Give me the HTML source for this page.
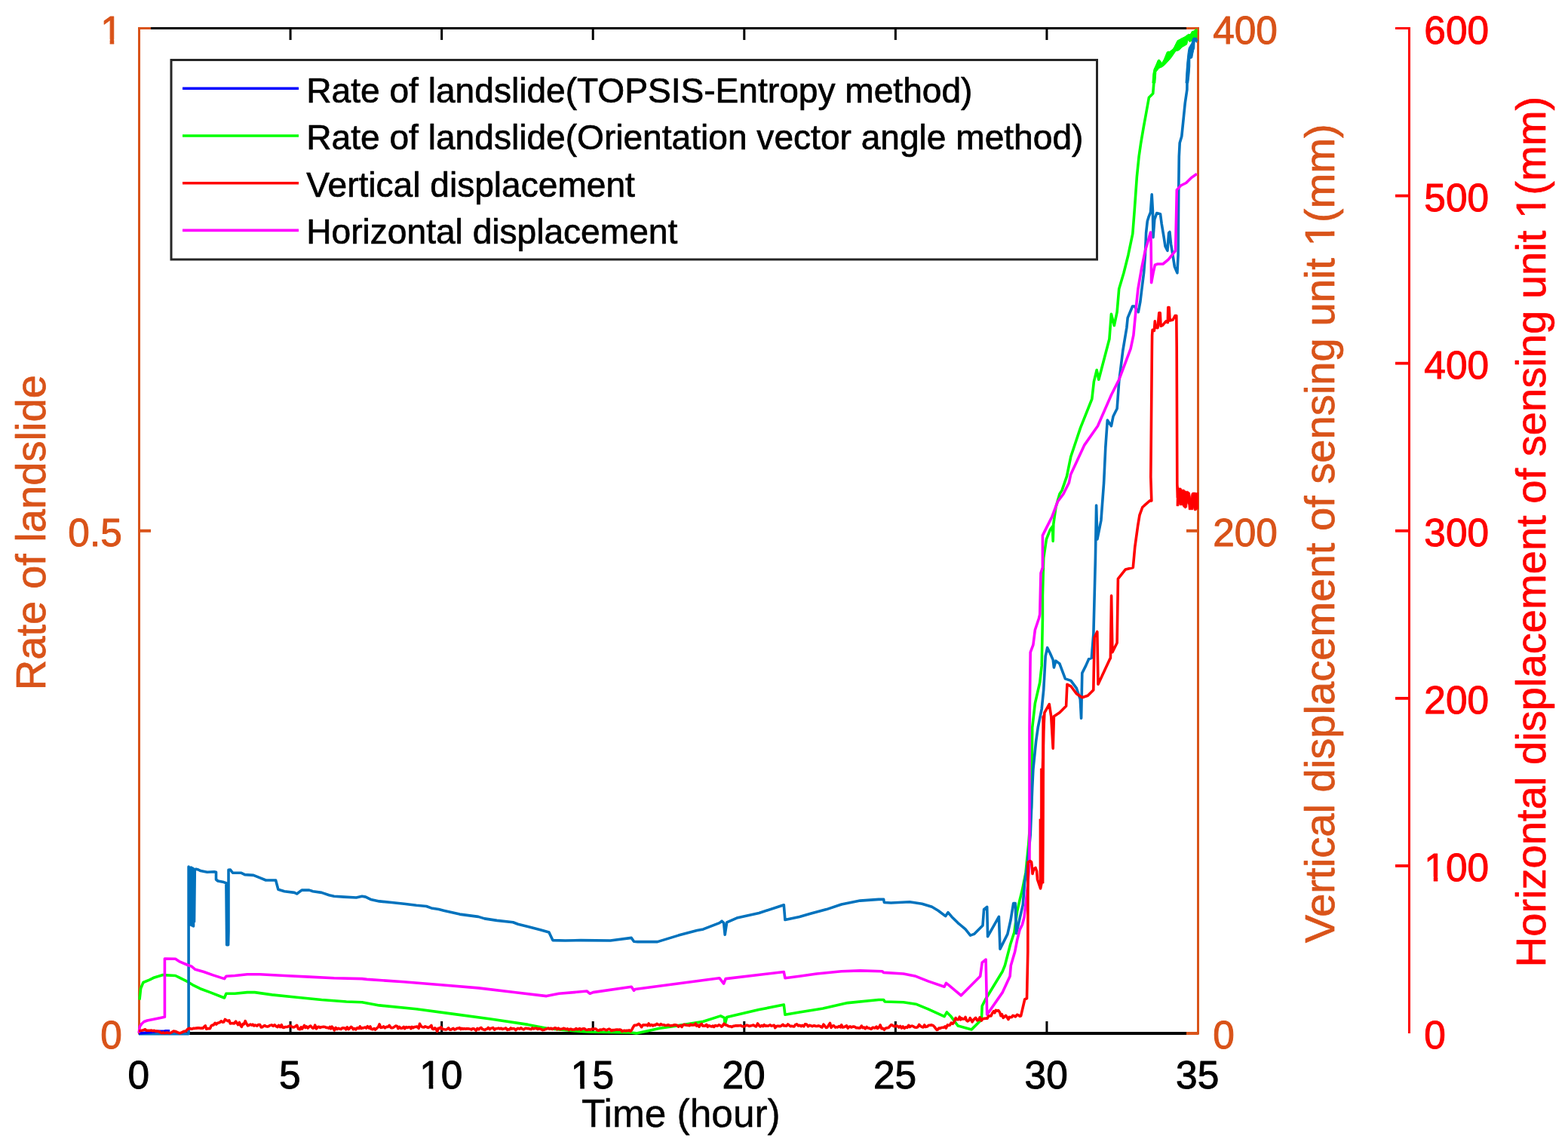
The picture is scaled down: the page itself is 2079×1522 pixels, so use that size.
<!DOCTYPE html>
<html><head><meta charset="utf-8"><title>Rate of landslide</title>
<style>html,body{margin:0;padding:0;background:#fff;overflow:hidden;}svg{display:block;}</style>
</head><body>
<svg width="2079" height="1522" viewBox="0 0 2079 1522" font-family="Liberation Sans, Arial, sans-serif">
<rect width="2079" height="1522" fill="#fff"/>
<defs><clipPath id="k1" clipPathUnits="userSpaceOnUse"><rect x="-6000" y="-600" width="12000" height="589.5"/><rect x="-6000" y="2.5" width="12000" height="600"/><rect x="-6000.0" y="-10.8" width="5947.9" height="13.6"/><rect x="-31.3" y="-10.8" width="10.7" height="13.6"/><rect x="-0.6" y="-10.8" width="6000.6" height="13.6"/></clipPath><clipPath id="k2" clipPathUnits="userSpaceOnUse"><rect x="-6000" y="-600" width="12000" height="589.5"/><rect x="-6000" y="2.5" width="12000" height="600"/><rect x="-6000.0" y="-10.8" width="6003.5" height="13.6"/><rect x="24.3" y="-10.8" width="10.7" height="13.6"/><rect x="55.0" y="-10.8" width="5945.0" height="13.6"/></clipPath><clipPath id="k3" clipPathUnits="userSpaceOnUse"><rect x="-6000" y="-600" width="12000" height="589.5"/><rect x="-6000" y="2.5" width="12000" height="600"/><rect x="-6000.0" y="-10.8" width="5947.9" height="13.6"/><rect x="-31.3" y="-10.8" width="10.7" height="13.6"/><rect x="-0.6" y="-10.8" width="6000.6" height="13.6"/></clipPath><clipPath id="k4" clipPathUnits="userSpaceOnUse"><rect x="-6000" y="-600" width="12000" height="589.5"/><rect x="-6000" y="2.5" width="12000" height="600"/><rect x="-6000.0" y="-10.8" width="5947.9" height="13.6"/><rect x="-31.3" y="-10.8" width="10.7" height="13.6"/><rect x="-0.6" y="-10.8" width="6000.6" height="13.6"/></clipPath><clipPath id="k5" clipPathUnits="userSpaceOnUse"><rect x="-6000" y="-600" width="12000" height="589.5"/><rect x="-6000" y="2.5" width="12000" height="600"/><rect x="-6000.0" y="-10.8" width="7648.9" height="13.6"/><rect x="1669.7" y="-10.8" width="10.7" height="13.6"/><rect x="1700.4" y="-10.8" width="4299.6" height="13.6"/></clipPath><clipPath id="k6" clipPathUnits="userSpaceOnUse"><rect x="-6000" y="-600" width="12000" height="589.5"/><rect x="-6000" y="2.5" width="12000" height="600"/><rect x="-6000.0" y="-10.8" width="7771.1" height="13.6"/><rect x="1791.9" y="-10.8" width="10.7" height="13.6"/><rect x="1822.6" y="-10.8" width="4177.4" height="13.6"/></clipPath></defs>
<path d="M184.5,37.5 H1588.5" stroke="#000" stroke-width="3" fill="none"/>
<path d="M184.5,1370.0 H1588.5" stroke="#000" stroke-width="3.8" fill="none"/>
<path d="M184.50,1370.0 V1354.0 M184.50,37.5 V53.0" stroke="#000" stroke-width="3"/>
<path d="M385.07,1370.0 V1354.0 M385.07,37.5 V53.0" stroke="#000" stroke-width="3"/>
<path d="M585.64,1370.0 V1354.0 M585.64,37.5 V53.0" stroke="#000" stroke-width="3"/>
<path d="M786.21,1370.0 V1354.0 M786.21,37.5 V53.0" stroke="#000" stroke-width="3"/>
<path d="M986.79,1370.0 V1354.0 M986.79,37.5 V53.0" stroke="#000" stroke-width="3"/>
<path d="M1187.36,1370.0 V1354.0 M1187.36,37.5 V53.0" stroke="#000" stroke-width="3"/>
<path d="M1387.93,1370.0 V1354.0 M1387.93,37.5 V53.0" stroke="#000" stroke-width="3"/>
<path d="M1588.50,1370.0 V1354.0 M1588.50,37.5 V53.0" stroke="#000" stroke-width="3"/>
<path d="M184.5,36.0 V1371.5 M1588.5,36.0 V1371.5" stroke="#D95319" stroke-width="3" fill="none"/>
<path d="M184.5,1370.00 H200.0 M1588.5,1370.00 H1573.0" stroke="#D95319" stroke-width="3.8"/>
<path d="M184.5,703.75 H200.0 M1588.5,703.75 H1573.0" stroke="#D95319" stroke-width="3.8"/>
<path d="M184.5,37.50 H200.0 M1588.5,37.50 H1573.0" stroke="#D95319" stroke-width="3"/>
<path d="M1868.5,36.0 V1370.0" stroke="#FF0000" stroke-width="3" fill="none"/>
<path d="M1868.5,1147.92 H1850.0" stroke="#FF0000" stroke-width="3.8"/>
<path d="M1868.5,925.83 H1850.0" stroke="#FF0000" stroke-width="3.8"/>
<path d="M1868.5,703.75 H1850.0" stroke="#FF0000" stroke-width="3.8"/>
<path d="M1868.5,481.67 H1850.0" stroke="#FF0000" stroke-width="3.8"/>
<path d="M1868.5,259.58 H1850.0" stroke="#FF0000" stroke-width="3.8"/>
<path d="M1868.5,37.50 H1850.0" stroke="#FF0000" stroke-width="3"/>
<path d="M185.0,1325.5 L186.6,1310.7 L189.9,1302.5 L198.1,1299.2 L204.6,1295.9 L216.1,1292.6 L232.6,1293.5 L237.5,1295.9 L249.0,1301.7 L255.6,1305.8 L265.4,1310.7 L278.6,1315.6 L297.5,1323.0 L299.9,1317.3 L311.4,1317.3 L327.9,1315.6 L337.7,1315.6 L360.7,1318.9 L393.6,1322.2 L426.4,1325.5 L459.3,1328.0 L480.0,1328.8 L502.9,1332.9 L552.1,1337.8 L601.4,1344.4 L650.7,1351.0 L700.0,1358.4 L724.6,1363.3 L741.1,1364.9 L770.0,1367.4 L784.6,1368.2 L837.2,1369.0 L843.8,1369.9 L875.0,1363.3 L907.9,1358.4 L932.5,1354.3 L955.5,1346.9 L960.4,1349.3 L961.2,1358.4 L963.7,1348.5 L1006.4,1338.6 L1039.3,1332.1 L1040.9,1345.2 L1060.0,1341.9 L1091.1,1337.0 L1123.9,1329.6 L1165.0,1325.5 L1171.6,1325.5 L1173.2,1328.0 L1197.9,1328.8 L1214.3,1331.2 L1230.7,1337.8 L1252.1,1347.7 L1255.4,1341.9 L1260.4,1346.9 L1270.1,1360.0 L1288.2,1364.9 L1301.4,1351.8 L1302.2,1333.7 L1306.3,1325.5 L1329.3,1287.7 L1332.4,1280.0 L1339.6,1252.3 L1344.9,1235.8 L1347.5,1216.8 L1348.8,1207.6 L1352.1,1193.1 L1355.4,1180.0 L1360.0,1157.0 L1363.7,1119.5 L1367.5,1070.0 L1368.7,964.7 L1372.4,932.3 L1378.7,904.9 L1381.2,882.4 L1382.4,820.0 L1382.4,789.9 L1383.7,739.9 L1387.4,714.9 L1392.4,702.4 L1395.5,698.0 L1396.2,717.4 L1396.8,695.0 L1399.9,672.5 L1404.9,655.0 L1408.1,649.9 L1414.5,631.4 L1419.7,605.8 L1432.5,567.4 L1447.8,529.0 L1450.4,505.9 L1454.2,490.5 L1456.8,503.3 L1470.9,449.5 L1473.4,416.3 L1477.3,431.6 L1481.1,413.7 L1483.7,383.0 L1490.0,361.8 L1495.9,338.2 L1501.8,309.8 L1504.2,279.1 L1507.4,234.0 L1510.1,207.4 L1512.7,189.6 L1516.3,168.4 L1518.9,154.2 L1523.4,129.3 L1528.7,124.0 L1531.4,92.1 L1536.7,81.4 L1537.6,86.8 L1541.1,85.0 L1548.2,74.3 L1550.0,70.8 L1557.1,65.5 L1562.4,54.8 L1567.7,53.1 L1574.8,47.7 L1580.1,46.0 L1581.9,44.2 L1585.5,40.6 L1587.2,39.8" stroke="#00FF00" fill="none" stroke-width="3.6" stroke-linejoin="round" stroke-linecap="butt"/>
<path d="M1527.9,110.0 L1528.9,97.3 L1530.2,92.0 L1531.6,89.4 L1535.2,79.9 L1536.8,79.1 L1538.4,80.4 L1540.5,84.1 L1542.1,82.0 L1547.3,68.9 L1549.4,68.1 L1551.5,69.9 L1556.8,62.6 L1561.0,54.2 L1566.2,51.0 L1568.3,50.0 L1572.0,48.4 L1575.7,45.2 L1577.8,46.8 L1580.4,41.6 L1583.1,41.0 L1585.2,39.5 L1587.0,38.9 L1587.0,50.5 L1585.2,51.0 L1581.5,53.1 L1577.3,55.7 L1575.2,52.6 L1573.6,58.9 L1567.3,62.6 L1563.1,66.8 L1558.9,67.8 L1553.1,76.2 L1550.0,79.9 L1543.6,86.8 L1540.5,88.9 L1536.8,90.4 L1532.9,95.2 L1531.8,110.0Z" fill="#00FF00" stroke="#00FF00" stroke-width="1" stroke-linejoin="round"/>
<path d="M184.0,1370.6 L250.1,1370.6 L250.1,1149.0 L250.5,1225.0 L251.5,1150.0 L252.5,1226.0 L253.5,1150.0 L254.5,1227.0 L255.5,1151.0 L256.5,1228.0 L257.0,1152.0 L257.5,1222.0 L258.3,1153.0 L260.1,1152.2 L262.9,1153.0 L266.0,1154.6 L274.7,1156.2 L284.1,1155.8 L286.5,1156.2 L286.5,1166.0 L288.9,1168.0 L296.7,1169.6 L299.9,1170.7 L300.7,1252.7 L302.6,1252.7 L303.0,1234.6 L303.0,1153.4 L305.4,1153.0 L308.6,1157.3 L320.0,1157.3 L324.6,1159.6 L336.1,1160.4 L344.3,1163.7 L352.5,1167.0 L365.6,1167.0 L368.9,1179.3 L377.1,1181.7 L390.3,1183.4 L393.6,1185.0 L400.1,1180.1 L410.0,1180.1 L414.9,1181.7 L426.4,1183.4 L436.3,1186.7 L442.9,1188.3 L456.0,1189.1 L472.4,1190.0 L480.0,1188.3 L484.8,1189.1 L491.4,1192.4 L502.9,1194.9 L519.3,1196.5 L535.7,1198.2 L552.1,1200.3 L565.3,1201.5 L571.9,1203.9 L581.7,1205.6 L588.3,1207.2 L609.6,1212.1 L634.3,1215.4 L642.5,1217.9 L658.9,1220.4 L680.3,1222.8 L686.8,1225.3 L700.0,1228.6 L716.4,1232.7 L727.9,1236.0 L732.9,1246.6 L749.3,1247.0 L770.0,1246.6 L809.3,1247.0 L837.2,1243.4 L840.5,1248.3 L845.4,1248.6 L871.7,1248.6 L899.6,1240.1 L924.3,1233.5 L932.5,1231.9 L953.9,1223.6 L957.1,1221.2 L959.6,1223.6 L961.2,1239.2 L963.7,1222.8 L976.9,1217.1 L1006.4,1210.5 L1039.3,1199.8 L1040.9,1219.5 L1060.0,1215.4 L1074.6,1211.3 L1096.0,1205.6 L1115.7,1199.0 L1140.4,1194.1 L1165.0,1192.4 L1171.6,1192.4 L1172.4,1196.5 L1181.4,1197.0 L1206.1,1195.7 L1222.5,1198.2 L1235.6,1202.3 L1243.9,1207.2 L1253.7,1214.6 L1257.0,1209.7 L1261.9,1215.4 L1270.1,1223.6 L1280.0,1231.9 L1286.6,1240.1 L1291.5,1238.4 L1303.0,1226.9 L1304.6,1205.6 L1308.7,1202.3 L1309.6,1241.7 L1324.4,1215.4 L1326.0,1258.1 L1335.9,1238.4 L1340.0,1220.0 L1343.7,1197.5 L1346.2,1197.5 L1347.5,1237.5 L1356.2,1199.8 L1358.7,1169.4 L1362.5,1144.4 L1366.2,1107.0 L1368.7,1044.6 L1369.9,1019.7 L1373.7,982.2 L1376.2,964.7 L1381.2,939.8 L1383.7,914.8 L1386.2,869.9 L1388.7,858.7 L1392.4,866.2 L1396.2,874.9 L1397.4,884.9 L1399.9,876.2 L1404.9,879.9 L1412.4,899.9 L1419.9,902.4 L1427.3,912.3 L1432.3,927.3 L1433.6,952.3 L1434.8,892.4 L1439.8,882.4 L1443.6,873.7 L1447.3,872.4 L1449.9,839.8 L1452.4,739.9 L1453.6,670.0 L1454.9,714.9 L1459.9,690.0 L1463.6,640.0 L1465.8,593.0 L1468.3,557.1 L1473.4,564.8 L1476.0,552.0 L1481.1,541.8 L1483.7,505.9 L1488.8,464.9 L1493.9,434.2 L1495.2,421.4 L1501.6,406.0 L1504.2,406.0 L1509.3,413.7 L1511.9,399.9 L1513.6,385.5 L1516.6,361.8 L1518.4,338.2 L1519.6,308.7 L1521.3,293.3 L1523.1,287.4 L1525.5,281.5 L1527.2,257.8 L1528.4,279.1 L1529.0,314.6 L1530.8,290.9 L1533.7,282.6 L1538.5,283.8 L1540.2,296.8 L1543.2,314.6 L1545.0,326.4 L1547.9,332.3 L1549.7,308.7 L1550.9,307.5 L1552.6,324.0 L1555.0,338.2 L1557.4,353.6 L1560.9,361.8 L1562.1,338.2 L1562.7,255.5 L1563.3,207.4 L1564.2,189.6 L1566.8,180.8 L1568.6,163.0 L1571.3,136.4 L1573.9,118.7 L1574.0,110.0 L1575.0,92.0 L1576.0,78.0 L1578.0,70.0 L1581.0,62.0 L1582.5,56.0 L1583.5,51.5 L1585.5,51.5 L1587.0,55.0" stroke="#0072BD" fill="none" stroke-width="3.6" stroke-linejoin="round" stroke-linecap="butt"/>
<path d="M1572.0,110.0 L1573.1,92.0 L1574.1,79.9 L1575.2,69.4 L1576.2,63.6 L1579.9,57.3 L1581.2,52.1 L1582.3,50.2 L1585.2,50.5 L1586.7,55.7 L1586.7,56.5 L1584.1,52.1 L1583.8,63.6 L1582.8,66.3 L1581.5,72.0 L1580.7,76.8 L1577.8,77.8 L1577.8,87.8 L1576.8,100.9 L1575.7,110.0Z" fill="#0072BD" stroke="#0072BD" stroke-width="1" stroke-linejoin="round"/>
<path d="M184.0,1369.9 L190.0,1369.5 L200.0,1368.5 L210.0,1367.3 L218.0,1367.2 L219.0,1366.8 L225.0,1366.8" stroke="#0000FF" fill="none" stroke-width="3.6" stroke-linejoin="round" stroke-linecap="butt"/>
<path d="M184.0,1369.5 L184.5,1366.8 L185.4,1361.0 L188.0,1357.3 L191.0,1354.5 L195.3,1353.0 L204.0,1351.3 L212.6,1349.5 L218.4,1348.2 L218.4,1271.0 L232.6,1271.3 L237.5,1274.6 L249.0,1279.5 L253.9,1281.1 L258.9,1285.3 L270.4,1288.5 L281.9,1292.6 L297.5,1297.6 L299.9,1294.3 L311.4,1293.5 L327.9,1291.8 L344.3,1291.8 L377.1,1293.5 L410.0,1295.1 L442.9,1296.7 L480.0,1297.6 L486.4,1298.4 L535.7,1301.7 L585.0,1305.8 L634.3,1309.9 L683.6,1315.7 L724.6,1320.6 L741.1,1317.3 L770.0,1314.8 L778.1,1314.0 L782.2,1317.3 L786.3,1315.6 L837.2,1308.2 L840.5,1313.2 L842.1,1311.5 L953.9,1296.7 L959.6,1304.1 L962.1,1297.6 L1039.3,1288.5 L1040.9,1296.7 L1060.0,1294.3 L1082.9,1291.0 L1115.7,1287.7 L1140.4,1286.9 L1169.9,1287.7 L1171.6,1289.4 L1197.9,1291.0 L1214.3,1294.3 L1230.7,1300.9 L1252.1,1308.2 L1254.5,1303.3 L1258.6,1306.6 L1274.3,1319.8 L1299.7,1294.3 L1302.2,1276.2 L1307.1,1272.1 L1308.7,1345.2 L1329.3,1315.6 L1339.1,1294.3 L1340.3,1280.0 L1345.6,1262.0 L1348.8,1245.7 L1352.1,1232.6 L1355.4,1226.0 L1358.0,1216.1 L1360.0,1199.0 L1362.5,1175.0 L1365.0,1144.4 L1365.0,964.7 L1366.2,864.9 L1369.9,854.9 L1372.4,835.0 L1377.4,820.0 L1378.7,814.8 L1380.0,759.9 L1382.4,752.4 L1382.4,709.9 L1387.4,699.9 L1394.9,685.0 L1402.4,665.0 L1409.9,655.0 L1417.4,640.0 L1419.7,628.9 L1437.6,590.4 L1455.5,564.8 L1473.4,523.8 L1483.7,503.3 L1499.1,462.4 L1502.9,444.4 L1507.1,399.9 L1508.9,383.1 L1513.6,355.9 L1518.4,332.3 L1521.9,320.5 L1525.5,308.1 L1526.1,320.5 L1526.6,374.8 L1529.0,361.8 L1531.4,351.2 L1534.9,350.0 L1542.0,350.0 L1549.1,344.1 L1558.6,332.3 L1559.7,281.5 L1560.3,251.9 L1565.6,246.0 L1572.7,242.5 L1579.8,235.4 L1586.9,230.6" stroke="#FF00FF" fill="none" stroke-width="3.6" stroke-linejoin="round" stroke-linecap="butt"/>
<path d="M184.0,1366.7 L185.7,1366.6 L187.4,1366.3 L189.1,1365.9 L190.6,1365.5 L192.6,1364.8 L194.0,1366.2 L195.8,1366.2 L197.6,1366.2 L199.2,1366.2 L200.9,1366.1 L202.6,1366.7 L204.5,1366.2 L206.4,1367.3 L207.7,1366.9 L209.3,1367.3 L211.1,1367.8 L212.9,1368.9 L214.7,1369.7 L216.5,1368.9 L217.9,1369.7 L219.5,1369.5 L221.2,1369.0 L222.7,1369.3 L224.7,1369.7 L226.2,1369.2 L227.7,1368.6 L229.8,1367.1 L231.6,1367.3 L233.6,1367.8 L235.2,1368.6 L236.7,1369.2 L238.0,1369.7 L239.3,1369.4 L240.8,1368.8 L242.7,1368.0 L244.4,1367.2 L246.4,1367.2 L248.1,1365.0 L250.1,1363.6 L251.7,1363.4 L253.3,1364.1 L255.3,1364.0 L256.8,1363.2 L258.1,1363.5 L260.2,1363.1 L262.3,1362.9 L263.8,1362.8 L265.8,1363.2 L267.1,1363.0 L269.1,1363.1 L270.6,1361.4 L272.3,1360.0 L273.7,1364.2 L275.6,1363.6 L277.2,1363.8 L278.5,1363.5 L280.1,1360.0 L281.6,1359.1 L283.1,1358.9 L285.1,1356.3 L286.8,1358.0 L288.5,1356.2 L289.8,1356.1 L291.5,1355.6 L293.2,1353.8 L295.0,1355.1 L296.7,1354.9 L298.4,1351.5 L300.0,1352.5 L302.1,1353.7 L303.8,1352.8 L305.3,1356.9 L306.6,1356.7 L308.6,1356.6 L310.6,1356.9 L312.7,1354.1 L314.1,1356.4 L315.7,1358.6 L317.4,1355.5 L319.1,1359.7 L320.4,1361.3 L322.0,1357.6 L323.5,1357.9 L325.2,1353.6 L326.6,1356.8 L328.5,1359.8 L330.2,1359.2 L332.2,1358.1 L333.6,1359.1 L335.1,1358.2 L336.8,1359.9 L338.1,1359.1 L339.5,1359.5 L340.9,1360.1 L342.5,1358.5 L344.6,1358.6 L346.3,1362.0 L347.7,1361.8 L349.0,1360.7 L350.9,1359.5 L352.3,1360.6 L354.4,1361.1 L355.9,1360.8 L357.6,1359.6 L359.0,1359.3 L360.3,1358.9 L362.2,1360.3 L364.2,1358.8 L366.1,1360.7 L368.0,1361.7 L369.4,1359.3 L371.4,1361.6 L373.3,1358.7 L374.6,1362.1 L376.3,1362.4 L378.2,1361.5 L379.9,1361.5 L381.2,1361.4 L383.1,1360.5 L385.2,1360.1 L387.1,1361.4 L388.5,1361.9 L390.2,1361.8 L392.1,1360.5 L393.7,1359.3 L395.7,1364.3 L397.7,1364.6 L399.2,1361.9 L400.6,1364.1 L402.0,1361.7 L403.5,1359.5 L404.8,1362.5 L406.3,1360.9 L408.2,1363.0 L410.3,1360.8 L411.8,1360.0 L413.4,1362.0 L414.7,1363.2 L416.2,1362.8 L417.7,1359.1 L419.5,1363.9 L421.2,1361.6 L423.1,1361.4 L424.5,1362.5 L426.0,1361.7 L427.5,1361.5 L428.9,1361.3 L431.0,1361.5 L432.6,1362.5 L434.0,1362.3 L435.8,1363.2 L437.4,1361.5 L438.7,1363.8 L440.1,1361.2 L441.7,1363.2 L443.3,1365.9 L445.2,1362.5 L446.9,1364.5 L448.9,1363.2 L450.3,1364.0 L452.2,1364.4 L453.9,1362.7 L455.9,1362.9 L457.3,1363.0 L458.7,1364.8 L460.3,1361.8 L462.3,1364.6 L464.0,1362.9 L465.6,1361.4 L467.2,1362.7 L468.5,1364.7 L470.4,1363.5 L471.8,1364.9 L473.8,1362.7 L475.8,1363.5 L477.3,1360.9 L478.9,1363.5 L480.4,1362.9 L482.4,1362.6 L484.4,1362.1 L485.7,1363.2 L487.3,1360.7 L489.4,1363.1 L490.9,1360.9 L492.2,1364.3 L494.2,1364.6 L496.2,1363.5 L497.5,1365.1 L499.5,1363.4 L501.6,1361.5 L503.1,1357.9 L504.9,1362.5 L507.0,1362.1 L508.5,1360.8 L510.4,1362.9 L512.4,1361.3 L514.3,1361.4 L516.2,1359.5 L518.3,1362.6 L519.8,1362.6 L521.4,1362.4 L523.2,1361.1 L524.6,1360.1 L526.4,1360.5 L527.9,1363.6 L529.6,1361.4 L531.1,1363.2 L533.2,1363.2 L535.3,1361.4 L536.7,1363.7 L538.7,1361.6 L540.6,1362.5 L542.1,1361.7 L543.6,1361.8 L544.9,1363.7 L546.3,1361.5 L547.7,1362.7 L549.4,1361.5 L551.0,1361.4 L553.1,1361.1 L555.1,1363.3 L556.5,1357.3 L558.5,1360.8 L560.2,1361.8 L562.2,1361.9 L563.8,1360.9 L565.8,1361.6 L567.8,1362.5 L569.9,1361.4 L571.9,1359.4 L573.3,1364.1 L574.9,1364.5 L576.6,1362.8 L578.0,1364.1 L579.7,1367.3 L581.1,1363.4 L582.7,1363.6 L584.6,1361.7 L586.1,1364.4 L587.7,1364.4 L589.4,1364.8 L591.1,1365.1 L593.0,1364.4 L594.7,1362.8 L596.8,1365.3 L598.3,1364.9 L599.7,1364.0 L601.0,1363.4 L602.6,1365.1 L604.3,1364.5 L605.8,1363.4 L607.9,1363.4 L609.3,1362.7 L610.9,1364.7 L612.2,1363.4 L613.8,1364.3 L615.4,1363.6 L616.9,1364.1 L618.7,1363.9 L620.5,1363.7 L622.2,1364.1 L623.6,1364.2 L625.0,1365.1 L626.7,1363.7 L628.1,1363.8 L629.6,1364.9 L631.2,1366.2 L632.9,1363.5 L634.8,1364.9 L636.1,1363.4 L638.1,1362.5 L639.5,1364.4 L641.4,1365.0 L643.0,1365.5 L644.3,1364.6 L646.0,1364.1 L647.4,1362.4 L649.3,1364.7 L650.9,1363.2 L652.5,1362.9 L653.8,1362.6 L655.7,1365.2 L657.2,1363.7 L659.0,1363.7 L661.0,1363.1 L662.6,1364.0 L664.4,1363.2 L665.9,1364.4 L667.3,1364.0 L669.1,1363.7 L670.7,1363.0 L672.7,1365.4 L674.1,1364.7 L675.4,1364.9 L677.2,1363.0 L678.6,1364.1 L679.9,1363.6 L681.8,1363.7 L683.8,1365.6 L685.4,1364.2 L686.9,1363.4 L688.8,1364.1 L690.9,1362.8 L692.9,1364.4 L694.4,1364.9 L695.8,1363.8 L697.2,1363.3 L699.1,1363.6 L701.1,1363.6 L702.5,1364.3 L704.1,1364.6 L705.7,1362.9 L707.3,1363.9 L709.3,1363.5 L711.2,1363.1 L712.9,1364.5 L714.7,1363.7 L716.2,1364.1 L717.7,1364.7 L719.6,1365.6 L721.7,1365.2 L723.3,1364.4 L725.0,1364.0 L726.8,1363.1 L728.6,1364.1 L730.6,1363.2 L732.1,1364.5 L734.0,1363.7 L735.7,1362.8 L737.1,1363.0 L738.6,1364.7 L740.4,1363.2 L742.2,1364.7 L743.9,1364.3 L745.8,1364.1 L747.2,1363.3 L749.0,1363.7 L750.6,1364.6 L752.5,1363.9 L754.1,1365.6 L755.7,1364.3 L757.3,1364.3 L758.7,1365.3 L760.2,1365.0 L761.9,1365.0 L764.0,1363.5 L765.6,1364.9 L767.0,1364.4 L768.6,1363.5 L770.1,1365.3 L771.6,1364.2 L773.4,1363.9 L774.8,1363.7 L776.7,1365.2 L778.8,1365.5 L780.1,1364.8 L781.6,1364.9 L783.0,1365.3 L785.0,1364.0 L786.5,1364.4 L788.5,1364.0 L790.0,1364.1 L791.7,1365.6 L793.7,1366.4 L795.5,1365.1 L797.1,1365.4 L798.4,1365.1 L800.5,1364.3 L802.5,1365.2 L804.1,1365.8 L806.0,1364.9 L807.6,1364.2 L809.3,1365.1 L811.0,1366.7 L812.5,1365.5 L814.3,1365.8 L816.1,1365.3 L818.1,1365.1 L819.9,1365.3 L821.7,1365.1 L823.4,1365.5 L824.8,1367.4 L826.4,1366.5 L828.2,1366.2 L829.8,1366.9 L831.2,1366.2 L832.9,1366.4 L834.3,1365.8 L835.9,1367.2 L837.8,1365.1 L839.1,1362.5 L841.1,1359.3 L843.0,1359.3 L844.9,1358.8 L846.8,1357.4 L848.8,1359.2 L850.6,1361.7 L852.2,1359.2 L853.5,1358.7 L855.2,1359.0 L857.0,1358.8 L858.6,1359.8 L860.1,1357.0 L862.0,1359.7 L864.0,1358.5 L865.6,1360.0 L867.6,1358.7 L868.9,1359.2 L870.9,1357.4 L872.9,1358.6 L874.8,1359.0 L876.1,1357.7 L878.2,1358.8 L880.0,1358.7 L882.0,1359.5 L883.9,1359.5 L885.9,1358.7 L887.7,1359.6 L889.3,1360.0 L891.0,1359.6 L892.4,1359.6 L893.8,1358.8 L895.9,1358.9 L897.6,1359.3 L899.6,1361.1 L901.1,1360.0 L902.4,1359.6 L904.1,1361.4 L905.7,1358.8 L907.2,1358.2 L908.8,1358.9 L910.9,1359.2 L912.9,1359.4 L914.2,1359.8 L915.6,1358.0 L917.6,1359.1 L919.0,1358.8 L920.4,1358.9 L922.3,1357.0 L923.6,1360.1 L925.6,1359.2 L927.0,1361.2 L928.5,1358.7 L930.3,1357.4 L931.8,1360.1 L933.4,1360.0 L934.8,1360.2 L936.8,1358.4 L938.3,1361.3 L939.8,1359.8 L941.9,1360.4 L943.9,1361.0 L945.2,1360.1 L946.6,1361.4 L948.3,1359.6 L950.0,1360.0 L951.5,1360.1 L953.3,1358.8 L955.1,1359.6 L956.6,1361.1 L957.9,1360.3 L959.9,1357.2 L961.9,1358.8 L963.9,1359.3 L965.2,1360.1 L966.9,1360.8 L968.4,1360.7 L970.3,1361.5 L972.0,1360.4 L973.4,1360.4 L974.9,1359.9 L976.7,1359.8 L978.4,1359.9 L980.4,1359.7 L982.1,1359.4 L983.8,1360.6 L985.5,1360.7 L987.5,1360.6 L989.2,1359.4 L991.1,1359.4 L993.2,1360.4 L995.2,1359.9 L997.2,1359.5 L999.0,1359.0 L1000.7,1360.2 L1002.6,1361.0 L1004.6,1357.0 L1006.5,1359.6 L1008.0,1361.0 L1010.1,1359.6 L1011.8,1360.6 L1013.3,1358.7 L1014.7,1360.1 L1016.3,1359.9 L1018.1,1360.3 L1019.5,1359.6 L1021.2,1358.8 L1022.7,1360.1 L1024.7,1359.8 L1026.4,1359.3 L1027.8,1362.7 L1029.4,1360.8 L1030.8,1360.3 L1032.7,1360.4 L1034.5,1360.6 L1036.2,1359.8 L1038.2,1358.3 L1039.6,1360.0 L1041.3,1359.9 L1042.9,1360.3 L1044.6,1358.0 L1046.1,1359.0 L1048.0,1360.7 L1049.7,1360.3 L1051.4,1360.7 L1053.0,1361.0 L1054.6,1358.6 L1056.4,1357.8 L1058.5,1360.0 L1060.3,1359.3 L1062.4,1360.6 L1063.8,1359.4 L1065.8,1360.8 L1067.4,1357.9 L1069.4,1358.0 L1071.5,1360.8 L1073.3,1359.3 L1075.3,1359.9 L1077.0,1360.7 L1078.8,1359.7 L1080.2,1359.9 L1081.7,1360.5 L1083.5,1360.5 L1085.2,1359.9 L1087.3,1360.4 L1088.7,1361.6 L1090.1,1362.1 L1091.9,1358.2 L1093.8,1360.5 L1095.3,1362.5 L1096.9,1362.1 L1099.0,1358.8 L1100.5,1356.5 L1102.0,1362.4 L1104.1,1360.0 L1105.6,1359.9 L1107.6,1362.1 L1109.1,1361.6 L1110.6,1362.0 L1112.3,1360.5 L1114.3,1361.9 L1115.7,1358.8 L1117.2,1362.1 L1118.7,1361.7 L1120.6,1361.0 L1122.5,1359.8 L1124.2,1363.2 L1125.6,1361.4 L1127.2,1360.9 L1128.7,1362.0 L1130.2,1361.3 L1132.0,1361.0 L1133.5,1361.4 L1135.3,1362.7 L1136.8,1362.6 L1138.3,1362.9 L1140.3,1363.0 L1142.3,1360.1 L1143.9,1362.6 L1145.8,1362.1 L1147.2,1363.9 L1149.1,1361.5 L1150.6,1362.9 L1152.5,1363.0 L1154.0,1363.9 L1155.5,1364.1 L1156.9,1362.3 L1158.2,1362.4 L1160.2,1362.9 L1162.1,1361.2 L1163.5,1363.5 L1165.5,1362.0 L1167.2,1359.0 L1168.9,1363.7 L1170.7,1363.4 L1172.5,1365.3 L1173.8,1363.5 L1175.3,1362.9 L1176.8,1362.8 L1178.4,1362.3 L1179.9,1360.4 L1181.8,1358.5 L1183.6,1359.6 L1185.5,1360.8 L1186.9,1360.8 L1188.8,1359.9 L1190.3,1360.6 L1191.7,1362.1 L1193.7,1360.5 L1195.4,1363.1 L1197.2,1361.0 L1199.1,1363.3 L1201.0,1361.7 L1202.9,1362.3 L1204.8,1359.3 L1206.3,1361.6 L1207.9,1360.5 L1209.2,1360.1 L1211.2,1360.9 L1212.9,1362.0 L1214.8,1362.2 L1216.8,1361.7 L1218.7,1358.5 L1220.6,1360.5 L1222.3,1361.4 L1224.1,1361.9 L1225.8,1359.0 L1227.2,1361.5 L1229.3,1361.1 L1231.3,1359.2 L1233.1,1359.2 L1235.2,1358.9 L1237.2,1359.6 L1238.8,1361.2 L1240.5,1363.4 L1242.1,1365.4 L1243.5,1365.1 L1244.9,1363.0 L1246.3,1363.4 L1248.0,1362.6 L1249.7,1362.3 L1251.6,1362.1 L1253.0,1360.9 L1254.4,1363.0 L1256.3,1358.9 L1257.6,1359.4 L1259.3,1359.2 L1261.3,1356.1 L1263.2,1357.3 L1265.0,1355.2 L1267.1,1349.5 L1268.8,1351.8 L1270.9,1351.7 L1272.3,1348.2 L1273.7,1351.9 L1275.1,1350.0 L1276.5,1351.0 L1278.4,1351.0 L1280.1,1348.5 L1281.4,1352.8 L1283.1,1353.9 L1284.7,1352.7 L1286.2,1349.7 L1287.5,1351.7 L1289.1,1354.8 L1290.7,1352.3 L1292.1,1350.8 L1293.6,1349.3 L1295.7,1352.9 L1297.6,1352.1 L1299.2,1348.9 L1301.2,1353.1 L1303.1,1350.7 L1304.7,1350.4 L1306.2,1350.4 L1307.8,1349.9 L1309.1,1350.2 L1310.8,1347.0 L1312.3,1346.7 L1314.1,1346.9 L1315.4,1343.8 L1317.5,1340.7 L1318.9,1342.8 L1320.4,1339.3 L1322.3,1340.3 L1323.7,1339.5 L1325.6,1342.3 L1327.0,1346.7 L1328.4,1344.7 L1330.2,1349.3 L1332.0,1347.9 L1333.6,1346.4 L1335.3,1348.8 L1337.0,1351.5 L1338.3,1348.4 L1339.9,1348.8 L1341.3,1348.5 L1343.0,1346.4 L1344.6,1346.9 L1346.4,1348.0 L1348.5,1345.3 L1350.2,1345.9 L1352.1,1347.3 L1353.6,1346.9 L1358.7,1325.0 L1361.5,1323.7 L1362.8,1262.0 L1363.0,1143.0 L1365.8,1141.5 L1367.6,1143.0 L1368.6,1152.0 L1369.0,1158.5 L1370.6,1152.5 L1373.0,1150.5 L1374.6,1155.0 L1375.5,1166.0 L1379.6,1178.0 L1381.0,1171.0 L1381.2,1094.5 L1382.4,1019.7 L1383.7,969.7 L1384.9,944.8 L1391.2,933.6 L1393.7,949.8 L1396.2,992.2 L1397.4,949.8 L1404.9,944.8 L1413.6,936.0 L1414.9,907.3 L1419.9,909.8 L1427.3,919.8 L1434.8,924.8 L1442.3,922.3 L1449.8,914.8 L1451.1,845.0 L1454.8,837.5 L1456.0,907.3 L1471.0,874.9 L1472.4,872.3 L1473.6,789.9 L1474.9,864.8 L1481.1,852.3 L1482.4,767.4 L1492.3,754.9 L1502.3,752.4 L1504.8,724.9 L1508.6,697.4 L1511.0,682.9 L1514.8,672.5 L1517.3,670.2 L1524.8,663.7 L1526.8,663.9 L1525.8,632.4 L1527.4,460.0 L1527.6,444.3 L1528.1,437.4 L1530.4,438.3 L1531.3,425.9 L1532.2,434.2 L1535.0,434.6 L1536.8,414.8 L1538.2,414.8 L1539.1,432.3 L1541.4,431.4 L1543.7,428.6 L1546.0,425.9 L1548.3,427.7 L1548.8,407.5 L1550.1,407.5 L1551.1,425.0 L1555.2,424.0 L1558.0,418.5 L1559.8,418.5 L1560.2,460.0 L1560.8,641.6 L1561.5,660.0" stroke="#FF0000" fill="none" stroke-width="3.6" stroke-linejoin="round" stroke-linecap="butt"/>
<path d="M1560.5,641.6 L1562.9,647.1 L1565.8,647.1 L1566.8,649.2 L1570.0,649.2 L1571.0,650.5 L1572.1,651.3 L1574.7,651.3 L1577.3,653.1 L1578.9,661.0 L1580.0,654.2 L1581.5,653.1 L1584.7,653.1 L1586.3,653.6 L1588.5,653.1 L1588.5,674.7 L1587.8,674.7 L1585.7,676.8 L1583.6,676.8 L1582.1,672.0 L1581.8,675.7 L1576.3,675.7 L1575.8,669.4 L1574.2,666.3 L1573.6,672.6 L1571.5,673.9 L1568.9,671.8 L1567.9,669.7 L1564.2,669.7 L1563.1,666.3 L1562.9,670.7 L1560.0,670.7Z" fill="#FF0000" stroke="#FF0000" stroke-width="0.8" stroke-linejoin="round"/>
<path d="M1378.0,1171.0 L1378.0,1086.0 L1379.4,1086.0 L1379.4,1019.0 L1381.5,1019.0 L1381.8,950.0 L1385.0,945.0 L1384.0,1171.0Z" fill="#FF0000" stroke="#FF0000" stroke-width="0.8" stroke-linejoin="round"/>
<text transform="translate(161.80,1390.20) scale(0.51400,0.51400)" font-size="100" fill="#D95319" text-anchor="end" stroke="#D95319" stroke-width="1.946" stroke-linejoin="round">0</text>
<text transform="translate(161.80,723.95) scale(0.51400,0.51400)" font-size="100" fill="#D95319" text-anchor="end" stroke="#D95319" stroke-width="1.946" stroke-linejoin="round">0.5</text>
<text transform="translate(161.80,57.70) scale(0.51400,0.51400)" font-size="100" fill="#D95319" text-anchor="end" stroke="#D95319" stroke-width="1.946" stroke-linejoin="round" clip-path="url(#k1)">1</text>
<text transform="translate(1608.20,1390.20) scale(0.51400,0.51400)" font-size="100" fill="#D95319" text-anchor="start" stroke="#D95319" stroke-width="1.946" stroke-linejoin="round">0</text>
<text transform="translate(1608.20,723.95) scale(0.51400,0.51400)" font-size="100" fill="#D95319" text-anchor="start" stroke="#D95319" stroke-width="1.946" stroke-linejoin="round">200</text>
<text transform="translate(1608.20,57.70) scale(0.51400,0.51400)" font-size="100" fill="#D95319" text-anchor="start" stroke="#D95319" stroke-width="1.946" stroke-linejoin="round">400</text>
<text transform="translate(1888.30,1390.10) scale(0.51400,0.51400)" font-size="100" fill="#FF0000" text-anchor="start" stroke="#FF0000" stroke-width="1.946" stroke-linejoin="round">0</text>
<text transform="translate(1888.30,1168.02) scale(0.51400,0.51400)" font-size="100" fill="#FF0000" text-anchor="start" stroke="#FF0000" stroke-width="1.946" stroke-linejoin="round" clip-path="url(#k2)">100</text>
<text transform="translate(1888.30,945.93) scale(0.51400,0.51400)" font-size="100" fill="#FF0000" text-anchor="start" stroke="#FF0000" stroke-width="1.946" stroke-linejoin="round">200</text>
<text transform="translate(1888.30,723.85) scale(0.51400,0.51400)" font-size="100" fill="#FF0000" text-anchor="start" stroke="#FF0000" stroke-width="1.946" stroke-linejoin="round">300</text>
<text transform="translate(1888.30,501.77) scale(0.51400,0.51400)" font-size="100" fill="#FF0000" text-anchor="start" stroke="#FF0000" stroke-width="1.946" stroke-linejoin="round">400</text>
<text transform="translate(1888.30,279.68) scale(0.51400,0.51400)" font-size="100" fill="#FF0000" text-anchor="start" stroke="#FF0000" stroke-width="1.946" stroke-linejoin="round">500</text>
<text transform="translate(1888.30,57.60) scale(0.51400,0.51400)" font-size="100" fill="#FF0000" text-anchor="start" stroke="#FF0000" stroke-width="1.946" stroke-linejoin="round">600</text>
<text transform="translate(183.70,1443.00) scale(0.51400,0.51400)" font-size="100" fill="#000" text-anchor="middle" stroke="#000" stroke-width="1.946" stroke-linejoin="round">0</text>
<text transform="translate(384.27,1443.00) scale(0.51400,0.51400)" font-size="100" fill="#000" text-anchor="middle" stroke="#000" stroke-width="1.946" stroke-linejoin="round">5</text>
<text transform="translate(584.84,1443.00) scale(0.51400,0.51400)" font-size="100" fill="#000" text-anchor="middle" stroke="#000" stroke-width="1.946" stroke-linejoin="round" clip-path="url(#k3)">10</text>
<text transform="translate(785.41,1443.00) scale(0.51400,0.51400)" font-size="100" fill="#000" text-anchor="middle" stroke="#000" stroke-width="1.946" stroke-linejoin="round" clip-path="url(#k4)">15</text>
<text transform="translate(985.99,1443.00) scale(0.51400,0.51400)" font-size="100" fill="#000" text-anchor="middle" stroke="#000" stroke-width="1.946" stroke-linejoin="round">20</text>
<text transform="translate(1186.56,1443.00) scale(0.51400,0.51400)" font-size="100" fill="#000" text-anchor="middle" stroke="#000" stroke-width="1.946" stroke-linejoin="round">25</text>
<text transform="translate(1387.13,1443.00) scale(0.51400,0.51400)" font-size="100" fill="#000" text-anchor="middle" stroke="#000" stroke-width="1.946" stroke-linejoin="round">30</text>
<text transform="translate(1587.70,1443.00) scale(0.51400,0.51400)" font-size="100" fill="#000" text-anchor="middle" stroke="#000" stroke-width="1.946" stroke-linejoin="round">35</text>
<text transform="translate(771.04,1493.80) scale(0.51400,0.51400)" font-size="100" fill="#000" text-anchor="start" stroke="#000" stroke-width="0.778" stroke-linejoin="round">Time (hour)</text>
<text transform="translate(60.00,915.29) rotate(-90) scale(0.56150,0.56150)" font-size="100" fill="#D95319" text-anchor="start" stroke="#D95319" stroke-width="1.247" stroke-linejoin="round">Rate of landslide</text>
<text transform="translate(1769.00,1250.20) rotate(-90) scale(0.56150,0.56150)" font-size="100" fill="#D95319" text-anchor="start" stroke="#D95319" stroke-width="1.247" stroke-linejoin="round" clip-path="url(#k5)">Vertical displacement of sensing unit 1(mm)</text>
<text transform="translate(2049.00,1282.39) rotate(-90) scale(0.56150,0.56150)" font-size="100" fill="#FF0000" text-anchor="start" stroke="#FF0000" stroke-width="1.247" stroke-linejoin="round" clip-path="url(#k6)">Horizontal displacement of sensing unit 1(mm)</text>
<rect x="227" y="79.5" width="1227.5" height="264.5" fill="#fff" stroke="#262626" stroke-width="3"/>
<path d="M242,117.3 H396" stroke="#0000FF" stroke-width="3.6"/>
<text transform="translate(406.30,136.00) scale(0.46100,0.46561)" font-size="100" fill="#000" text-anchor="start" stroke="#000" stroke-width="1.518" stroke-linejoin="round">Rate of landslide(TOPSIS-Entropy method)</text>
<path d="M242,180.0 H396" stroke="#00FF00" stroke-width="3.6"/>
<text transform="translate(406.30,198.40) scale(0.46100,0.46561)" font-size="100" fill="#000" text-anchor="start" stroke="#000" stroke-width="1.518" stroke-linejoin="round">Rate of landslide(Orientation vector angle method)</text>
<path d="M242,242.7 H396" stroke="#FF0000" stroke-width="3.6"/>
<text transform="translate(406.30,260.80) scale(0.46100,0.46561)" font-size="100" fill="#000" text-anchor="start" stroke="#000" stroke-width="1.518" stroke-linejoin="round">Vertical displacement</text>
<path d="M242,305.4 H396" stroke="#FF00FF" stroke-width="3.6"/>
<text transform="translate(406.30,323.20) scale(0.46100,0.46561)" font-size="100" fill="#000" text-anchor="start" stroke="#000" stroke-width="1.518" stroke-linejoin="round">Horizontal displacement</text>
</svg>
</body></html>
